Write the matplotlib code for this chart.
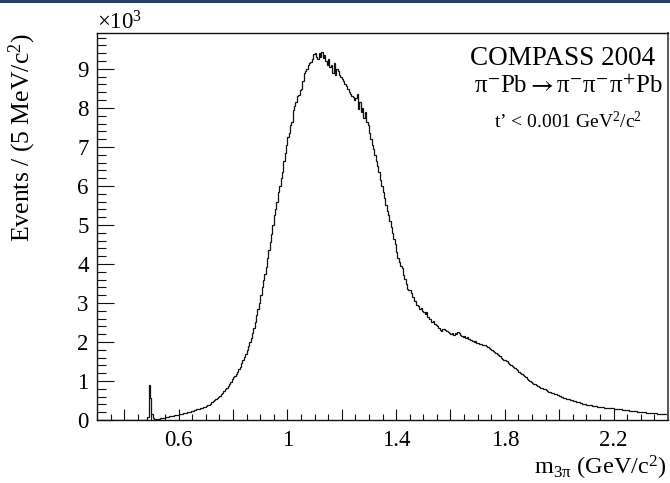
import numpy as np
import matplotlib
matplotlib.use("Agg")
import matplotlib.pyplot as plt
from matplotlib.ticker import FixedLocator, FixedFormatter, MultipleLocator, FuncFormatter
from matplotlib.patches import Rectangle

# ---------------- data (5 MeV bins from 0.30 to 2.40 GeV) ----------------
bin_lo = 0.30
bin_hi = 2.40
bin_w = 0.005

r030 = [0] * 20
r040 = [0, 0, 0, 0, 0, 0, 0, 0, 0, 0, 0, 0, 0, 0, 0, 0, 10, 70, 900, 560]
r050 = [150, 50, 30, 25, 30, 35, 40, 45, 55, 60, 70, 75, 85, 90, 100, 110, 115, 125, 130, 140]
r060 = [150, 155, 165, 170, 180, 190, 195, 205, 215, 225, 235, 245, 255, 270, 275, 290, 300, 315, 330, 340]
r070 = [360, 375, 395, 420, 450, 480, 500, 530, 560, 600, 620, 660, 700, 740, 790, 830, 880, 930, 980, 1040]
r080 = [1090, 1140, 1190, 1240, 1300, 1370, 1450, 1530, 1610, 1700, 1800, 1900, 2000, 2110, 2230, 2370, 2520, 2700, 2850, 3000]
r090 = [3200, 3400, 3580, 3750, 3930, 4150, 4350, 4550, 4780, 5000, 5250, 5400, 5600, 5850, 6000, 6200, 6350, 6650, 6850, 7050]
r100 = [7250, 7350, 7550, 7650, 7950, 8050, 8150, 8300, 8320, 8450, 8480, 8700, 8900, 8950, 9000, 9100, 9150, 9180, 9250, 9380]
r110 = [9420, 9300, 9250, 9400, 9300, 9440, 9280, 9350, 9200, 9100, 9250, 9050, 9100, 8900, 9150, 8850, 9000, 8950, 8850, 8800]
r120 = [8750, 8680, 8600, 8550, 8480, 8400, 8350, 8300, 8280, 8200, 8250, 8350, 7980, 8150, 7900, 8000, 7750, 7900, 7650, 7550]
r130 = [7350, 7200, 7050, 6950, 6800, 6650, 6500, 6350, 6150, 6000, 5850, 5700, 5500, 5350, 5250, 5100, 4950, 4800, 4650, 4500]
r140 = [4300, 4150, 4050, 3950, 3900, 3720, 3620, 3480, 3350, 3330, 3320, 3250, 3150, 3050, 3050, 2950, 2920, 2850, 2880, 2800]
r150 = [2760, 2720, 2760, 2650, 2600, 2580, 2520, 2550, 2470, 2430, 2400, 2350, 2300, 2290, 2320, 2330, 2300, 2270, 2260, 2240]
r160 = [2200, 2230, 2180, 2240, 2200, 2250, 2220, 2190, 2160, 2140, 2150, 2110, 2130, 2080, 2060, 2050, 2030, 2000, 2020, 1980]
r170 = [1970, 1960, 1940, 1930, 1910, 1920, 1900, 1860, 1840, 1810, 1790, 1770, 1740, 1720, 1690, 1660, 1640, 1600, 1570, 1550]
r180 = [1530, 1500, 1470, 1440, 1420, 1390, 1370, 1340, 1300, 1270, 1230, 1200, 1170, 1150, 1120, 1090, 1060, 1030, 1000, 970]
r190 = [950, 930, 920, 890, 870, 850, 830, 820, 800, 790, 770, 750, 730, 720, 700, 690, 670, 660, 640, 630]
r200 = [610, 600, 590, 575, 560, 550, 540, 530, 515, 500, 490, 480, 470, 460, 450, 440, 430, 420, 410, 400]
r210 = [390, 385, 380, 375, 370, 360, 355, 350, 345, 340, 335, 330, 325, 320, 318, 315, 310, 305, 300, 295]
r220 = [290, 288, 285, 280, 275, 270, 265, 260, 255, 250, 245, 240, 235, 232, 228, 225, 220, 215, 212, 208]
r230 = [205, 200, 198, 195, 190, 185, 182, 180, 175, 172, 170, 168, 165, 162, 160, 157, 155, 152, 150, 148]

rows = [r030, r040, r050, r060, r070, r080, r090, r100, r110, r120, r130,
        r140, r150, r160, r170, r180, r190, r200, r210, r220, r230]
counts = np.array([v for r in rows for v in r], dtype=float)

x_major = [0.4, 0.6, 0.8, 1.0, 1.2, 1.4, 1.6, 1.8, 2.0, 2.2]
x_labels = ["", "0.6", "", "1", "", "1.4", "", "1.8", "", "2.2"]
y_major = [0, 1000, 2000, 3000, 4000, 5000, 6000, 7000, 8000, 9000]

# ---------------- style ----------------
SERIF = ["Liberation Serif", "DejaVu Serif"]
plt.rcParams["font.family"] = SERIF
plt.rcParams["mathtext.fontset"] = "custom"
plt.rcParams["mathtext.rm"] = "Liberation Serif"
plt.rcParams["mathtext.it"] = "Liberation Serif:italic"
plt.rcParams["mathtext.bf"] = "Liberation Serif:bold"

W, H = 670, 483
fig = plt.figure(figsize=(W / 100, H / 100), dpi=100)
ax = fig.add_axes([97 / W, 1 - 420 / H, (668 - 97) / W, (420 - 33) / H])

edges = bin_lo + bin_w * np.arange(len(counts) + 1)
ax.stairs(counts, edges, color="#111111", lw=0.9, baseline=None)

ax.set_xlim(bin_lo, bin_hi)
ax.set_ylim(0, 9920)

for s in ax.spines.values():
    s.set_linewidth(1.0)
    s.set_color("#111111")
ax.spines["right"].set_color("#555555")
ax.spines["right"].set_linewidth(1.4)

ax.xaxis.set_major_locator(FixedLocator(x_major))
ax.xaxis.set_major_formatter(FixedFormatter(x_labels))
ax.xaxis.set_minor_locator(MultipleLocator(0.05))
ax.yaxis.set_major_locator(FixedLocator(y_major))
ax.yaxis.set_major_formatter(FuncFormatter(lambda v, p: f"{v/1000:g}"))
ax.yaxis.set_minor_locator(MultipleLocator(200))

ax.tick_params(axis="both", which="both", direction="in", top=False, right=False,
               width=0.8, color="#111111", labelsize=16.5)
ax.tick_params(axis="y", which="major", length=12.5, pad=6)
ax.tick_params(axis="y", which="minor", length=6.5)
ax.tick_params(axis="x", which="major", length=8, pad=7)
ax.tick_params(axis="x", which="minor", length=4.3)

# labels
fig.text(22 / W, 1 - 33 / H, "Events / (5 MeV/c$^{2}$)", rotation=90,
         ha="center", va="top", fontsize=18.5)
fig.text(666 / W, 1 - 475 / H, "m$_{\\mathrm{3π}}$ (GeV/c$^{2}$)",
         ha="right", va="baseline", fontsize=17.5)
fig.text(97 / W, 1 - 29 / H, "×10$^{3}$", ha="left", va="baseline", fontsize=16.5)

fig.text(563 / W, 1 - 65 / H, "COMPASS 2004", ha="center", va="baseline", fontsize=19.5)
fig.text(568 / W, 1 - 93 / H, "π$^{-}$Pb$\\rightarrow$π$^{-}$π$^{-}$π$^{+}$Pb",
         ha="center", va="baseline", fontsize=18, math_fontfamily="stix")
fig.text(568 / W, 1 - 128 / H, "t’ < 0.001 GeV$^{2}$/c$^{2}$",
         ha="center", va="baseline", fontsize=14)

# thin navy rule at the very top of the slide crop
fig.add_artist(Rectangle((0, 1 - 2.5 / H), 1, 2.5 / H, transform=fig.transFigure,
                         color="#23406e", lw=0))

fig.savefig("out.png", dpi=100)
